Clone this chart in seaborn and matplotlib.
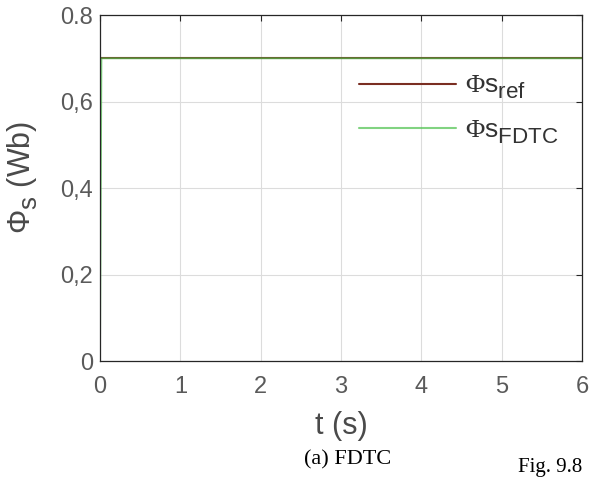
import matplotlib
matplotlib.use("Agg")
import matplotlib.pyplot as plt
import seaborn as sns
import pandas as pd

try:
    import matplotlib._mathtext as _mt
    _mt.SHRINK_FACTOR = 0.85  # larger sub-scripts, TeX-interpreter style
    _mt.FontConstantsBase.sub1 = 0.45
    _mt.FontConstantsBase.sub2 = 0.6
except Exception:
    pass

# Flux reference and FDTC-controlled stator flux over time
t_ref = [0.0, 6.0]
phi_ref = [0.7, 0.7]
t_fdtc = [0.0, 0.018, 6.0]
phi_fdtc = [0.0, 0.7, 0.7]

x_ticks = [0, 1, 2, 3, 4, 5, 6]
y_ticks = [0.0, 0.2, 0.4, 0.6, 0.8]
y_tick_labels = ["0", "0,2", "0,4", "0,6", "0.8"]

sns.set_theme(style="white")
plt.rcParams["font.family"] = ["Liberation Sans", "DejaVu Sans"]
plt.rcParams["mathtext.fontset"] = "custom"
plt.rcParams["mathtext.rm"] = "Liberation Serif"
plt.rcParams["mathtext.sf"] = "Liberation Sans"
plt.rcParams["mathtext.it"] = "Liberation Sans:italic"

fig = plt.figure(figsize=(5.91, 4.79), dpi=100)
ax = fig.add_axes([0.1692, 0.2463, 0.8155, 0.7223])

df_ref = pd.DataFrame({"t": t_ref, "phi": phi_ref})
df_fdtc = pd.DataFrame({"t": t_fdtc, "phi": phi_fdtc})

sns.lineplot(data=df_ref, x="t", y="phi", ax=ax, color="#7a2e22", linewidth=1.5,
             label=r"$\Phi\mathsf{s}_{\mathsf{ref}}$", estimator=None, sort=False)
sns.lineplot(data=df_fdtc, x="t", y="phi", ax=ax, color="#4cc14c", linewidth=1.3,
             alpha=0.7, label=r"$\Phi\mathsf{s}_{\mathsf{FDTC}}$",
             estimator=None, sort=False)

ax.set_xlim(0, 6)
ax.set_ylim(0, 0.8)
ax.set_xticks(x_ticks)
ax.set_xticklabels([str(v) for v in x_ticks])
ax.set_yticks(y_ticks)
ax.set_yticklabels(y_tick_labels)
ax.grid(True, color="#dcdcdc", linewidth=0.8)
ax.tick_params(direction="in", length=4, width=0.8, colors="#262626",
               labelsize=17, labelcolor="#5a5a5a", top=True, right=True)
ax.tick_params(axis="x", pad=11)
ax.tick_params(axis="y", pad=5)
for s in ax.spines.values():
    s.set_color("#262626")
    s.set_linewidth(0.9)

ax.set_xlabel("t (s)", fontsize=22, color="#4a4a4a")
ax.xaxis.set_label_coords(0.5, -0.145)
ax.set_ylabel(r"$\mathsf{\Phi}_{\mathsf{s}}$ (Wb)", fontsize=22, color="#4a4a4a")
ax.yaxis.set_label_coords(-0.125, 0.53)

leg = ax.legend(loc="upper left", bbox_to_anchor=(0.52, 0.853), frameon=False,
                fontsize=19, handlelength=3.7, labelspacing=0.65, borderpad=0.3,
                handletextpad=0.35, borderaxespad=0)
for txt in leg.get_texts():
    txt.set_color("#333333")
for h in leg.get_lines():
    h.set_linewidth(1.5)

fig.text(0.589, 0.040, "(a) FDTC", ha="center", va="center", fontsize=16,
         family="Liberation Serif", color="black")
fig.text(0.877, 0.004, "Fig. 9.8", ha="left", va="bottom", fontsize=15,
         family="Liberation Serif", color="black")

fig.savefig("out.png", dpi=100, facecolor="white")
